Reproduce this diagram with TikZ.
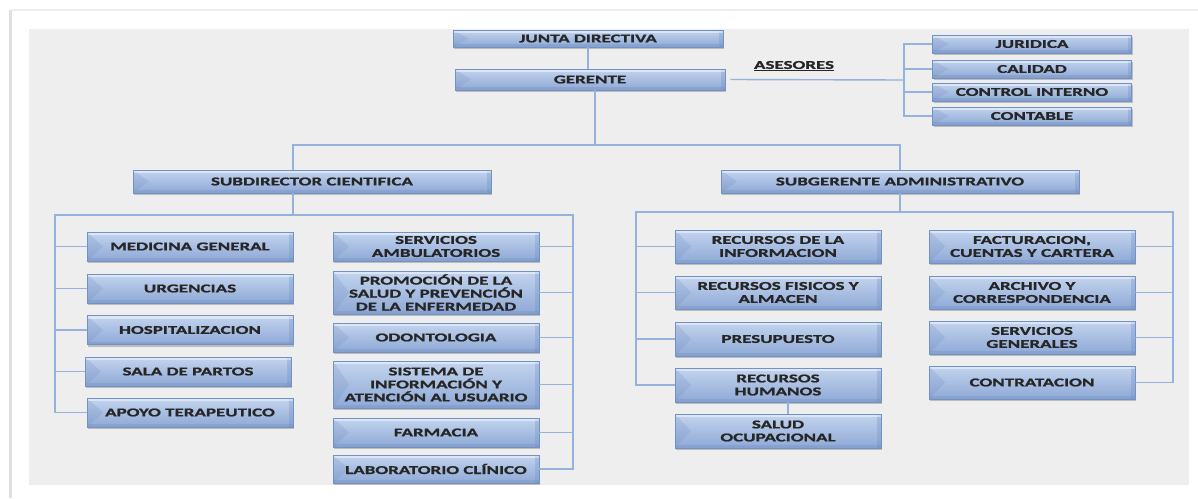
\documentclass[tikz,border=0pt]{standalone}
\usepackage{fontspec}
\setmainfont{Carlito}[FakeStretch=1.58,BoldFeatures={FakeBold=1.2}]
\usetikzlibrary{shadows}
\definecolor{panel}{HTML}{EEEEEE}
\definecolor{boxtop}{HTML}{C3D4EE}
\definecolor{boxbot}{HTML}{8EA9D6}
\definecolor{boxline}{HTML}{7392C4}
\definecolor{bevdark}{HTML}{6F8CC0}
\definecolor{linkblue}{HTML}{94B2DC}
\definecolor{ink}{HTML}{262626}
\begin{document}
\begin{tikzpicture}[x=1pt, y=-1pt, conn/.style={draw=linkblue,line width=1.4pt},
org node/.style={rectangle,draw=boxline,line width=0.6pt,top color=boxtop,bottom color=boxbot,inner sep=0pt,
  minimum width=206pt,minimum height=29pt,align=center,text=ink,font=\bfseries\fontsize{12}{13}\selectfont,
  drop shadow={shadow xshift=1pt,shadow yshift=-2pt,opacity=.45},
  path picture={
    \fill[bevdark,opacity=.22] (path picture bounding box.north west) -- ([xshift=16pt]path picture bounding box.west) -- (path picture bounding box.south west) -- cycle;
    \fill[bevdark,opacity=.3] ([xshift=-4pt]path picture bounding box.north east) rectangle (path picture bounding box.south east);
    \fill[white,opacity=.45] (path picture bounding box.north west) rectangle ([yshift=-3pt]path picture bounding box.north east);
    \fill[bevdark,opacity=.3] ([yshift=3pt]path picture bounding box.south west) rectangle (path picture bounding box.south east);}}]
\useasboundingbox (0,0) rectangle (1198,498);
% card and panel
\fill[white] (0,0) rectangle (1198,498);
\fill[black!12] (9,10) rectangle (12,498);
\fill[black!7] (12,9) rectangle (1198,11);
\fill[panel] (29,29) rectangle (1189,485);
\begin{scope}[every node/.style={org node}]
\node (jun) at (588,38.5) [minimum width=270pt,minimum height=17pt] {JUNTA DIRECTIVA};%top
\node (ger) at (590,79.5) [minimum width=270pt,minimum height=21pt] {GERENTE};
\node (jur) at (1032,44) [minimum width=199pt,minimum height=18pt] {JURIDICA};
\node (cal) at (1032,69) [minimum width=199pt,minimum height=18pt] {CALIDAD};
\node (ctl) at (1032,92) [minimum width=199pt,minimum height=18pt] {CONTROL INTERNO};
\node (ctb) at (1032,116) [minimum width=199pt,minimum height=18pt] {CONTABLE};
\node (sdc) at (312,181.5) [minimum width=358pt,minimum height=23pt] {SUBDIRECTOR CIENTIFICA};
\node (sga) at (900,181.5) [minimum width=358pt,minimum height=23pt] {SUBGERENTE ADMINISTRATIVO};
% cientifica, left
\node (med) at (190,246.5) {MEDICINA GENERAL};
\node (urg) at (190,288.5) {URGENCIAS};
\node (hos) at (190,330) {HOSPITALIZACION};
\node (sal) at (188,371.5) {SALA DE PARTOS};
\node (apo) at (190,412.5) {APOYO TERAPEUTICO};
% cientifica, right
\node (amb) at (436,246.5) {SERVICIOS\\AMBULATORIOS};
\node (pro) at (436,292.5) [minimum height=43pt] {PROMOCIÓN DE LA\\SALUD Y PREVENCIÓN\\DE LA ENFERMEDAD};
\node (odo) at (436,337.5) {ODONTOLOGIA};
\node (sis) at (436,384.5) [minimum height=47pt] {SISTEMA DE\\INFORMACIÓN Y\\ATENCIÓN AL USUARIO};
\node (far) at (436,432.5) {FARMACIA};
\node (lab) at (436,469) [minimum height=28pt] {LABORATORIO CLÍNICO};
% administrativo, left
\node (rin) at (778,246.5) [minimum height=33pt] {RECURSOS DE LA\\INFORMACION};
\node (rfi) at (778,292.5) [minimum height=33pt] {RECURSOS FISICOS Y\\ALMACEN};
\node (pre) at (778,339) [minimum height=34pt] {PRESUPUESTO};
\node (rhu) at (778,385) [minimum height=34pt] {RECURSOS\\HUMANOS};
\node (ocu) at (778,431) [minimum height=34pt] {SALUD\\OCUPACIONAL};
% administrativo, right
\node (fac) at (1032,246.5) [minimum height=33pt] {FACTURACION,\\CUENTAS Y CARTERA};
\node (arc) at (1032,292.5) [minimum height=33pt] {ARCHIVO Y\\CORRESPONDENCIA};
\node (sge) at (1032,337.5) [minimum height=33pt] {SERVICIOS\\GENERALES};
\node (con) at (1032,382.5) [minimum height=33pt] {CONTRATACION};
\end{scope}
\node[text=ink,font=\bfseries\fontsize{12}{13}\selectfont] (ase) at (794,66) {\underline{ASESORES}};
\coordinate (asb) at (904,80);%bracket of the asesores
\coordinate (top) at (595,145);
\coordinate (sdcL) at (55,215);
\coordinate (sdcR) at (573,215);
\coordinate (sgaL) at (636,212);
\coordinate (sgaR) at (1173,212);
\begin{scope}[every edge/.style={conn}]
\draw (jun) edge node{} (jun |- ger.north);
\draw ([xshift=5pt]ger.east) edge node{} (asb);
\draw[conn] (jur.west) -| (asb) |- (ctb.west);
\draw (cal.west) edge node{} (cal.west -| asb);
\draw (ctl.west) edge node{} (ctl.west -| asb);
\draw[conn] ([xshift=5pt]ger.south) -- (top);
\draw[conn] ([xshift=-19pt]sdc.north) |- (top) -| (sga.north);
\draw[conn] ([xshift=-19pt]sdc.south) -- ([xshift=-19pt]sdc.south |- sdcL);
\draw[conn] (apo.west) -| (sdcL) -- (sdcR) |- (lab.east);
\foreach \n in {med,urg,hos,sal}
  \draw (\n.west) edge node{} (\n.west -| sdcL);
\foreach \n in {amb,pro,odo,sis,far}
  \draw (\n.east) edge node{} (\n.east -| sdcR);
\draw[conn] (sga.south) -- (sga.south |- sgaL);
\draw[conn] (rhu.west) -| (sgaL) -- (sgaR) |- (con.east);
\foreach \n in {rin,rfi,pre}
  \draw (\n.west) edge node{} (\n.west -| sgaL);
\foreach \n in {fac,arc,sge}
  \draw (\n.east) edge node{} (\n.east -| sgaR);
\draw ([xshift=10pt]rhu.south) edge node{} ([xshift=10pt]ocu.north);
\end{scope}
\end{tikzpicture}
\end{document}
